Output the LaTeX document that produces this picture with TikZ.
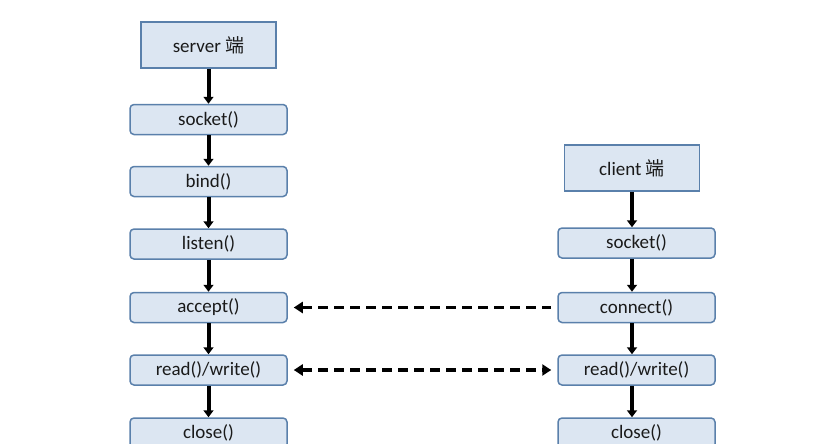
\documentclass[tikz,border=0pt]{standalone}
\usepackage{fontspec}
\setmainfont{Carlito}
\newfontfamily\cjk{Noto Sans CJK SC}
\usetikzlibrary{arrows.meta}
\definecolor{boxfill}{HTML}{DCE6F2}
\definecolor{boxline}{HTML}{5A80AB}
\definecolor{txt}{HTML}{1A1A1A}

\begin{document}
\begin{tikzpicture}[x=1pt,y=-1pt,
	fn/.style={draw=boxline, fill=boxfill, line width=1.5pt, rounded corners=4pt,
		minimum width=157pt, minimum height=30pt, inner sep=0pt,
		font=\fontsize{19}{21}\selectfont, text=txt},
	head/.style={fn, rounded corners=0pt, minimum width=135pt, minimum height=46pt},
	flow/.style={-{Triangle[length=7pt,width=10pt]}, line width=4pt},
	msg/.style={dash pattern=on 10pt off 6pt, line width=3.5pt, shorten <=6pt, shorten >=6pt}]

	\useasboundingbox (0,0) rectangle (824,444);

	% server side
	\node[head] (srv) at (208.5,45) {server {\cjk 端}};
	\node[fn] (s1) at (208.5,119.5) {socket()};
	\node[fn] (s2) at (208.5,181.5) {bind()};
	\node[fn] (s3) at (208.5,244) {listen()};
	\node[fn] (s4) at (208.5,307.5) {accept()};
	\node[fn] (s5) at (208.5,370) {read()/write()};
	\node[fn] (s6) at (208.5,433) {close()};

	% client side
	\node[head] (cli) at (632,168) {client {\cjk 端}};
	\node[fn] (c1) at (636.5,243) {socket()};
	\node[fn] (c2) at (636.5,307.5) {connect()};
	\node[fn] (c3) at (636.5,370) {read()/write()};
	\node[fn] (c4) at (636.5,433) {close()};

	\foreach \a/\b in {srv/s1, s1/s2, s2/s3, s3/s4, s4/s5, s5/s6}
		\draw[flow] (\a.south -| srv) -- (\b.north -| srv);
	\foreach \a/\b in {cli/c1, c1/c2, c2/c3, c3/c4}
		\draw[flow] (\a.south -| cli) -- (\b.north -| cli);

	\draw[msg, {Triangle[length=9pt,width=11pt]}-] (s4.east) -- (c2.west);
	\draw[msg, {Triangle[length=9pt,width=11pt]}-{Triangle[length=9pt,width=11pt]}] (s5.east) -- (c3.west);

\end{tikzpicture}
\end{document}
